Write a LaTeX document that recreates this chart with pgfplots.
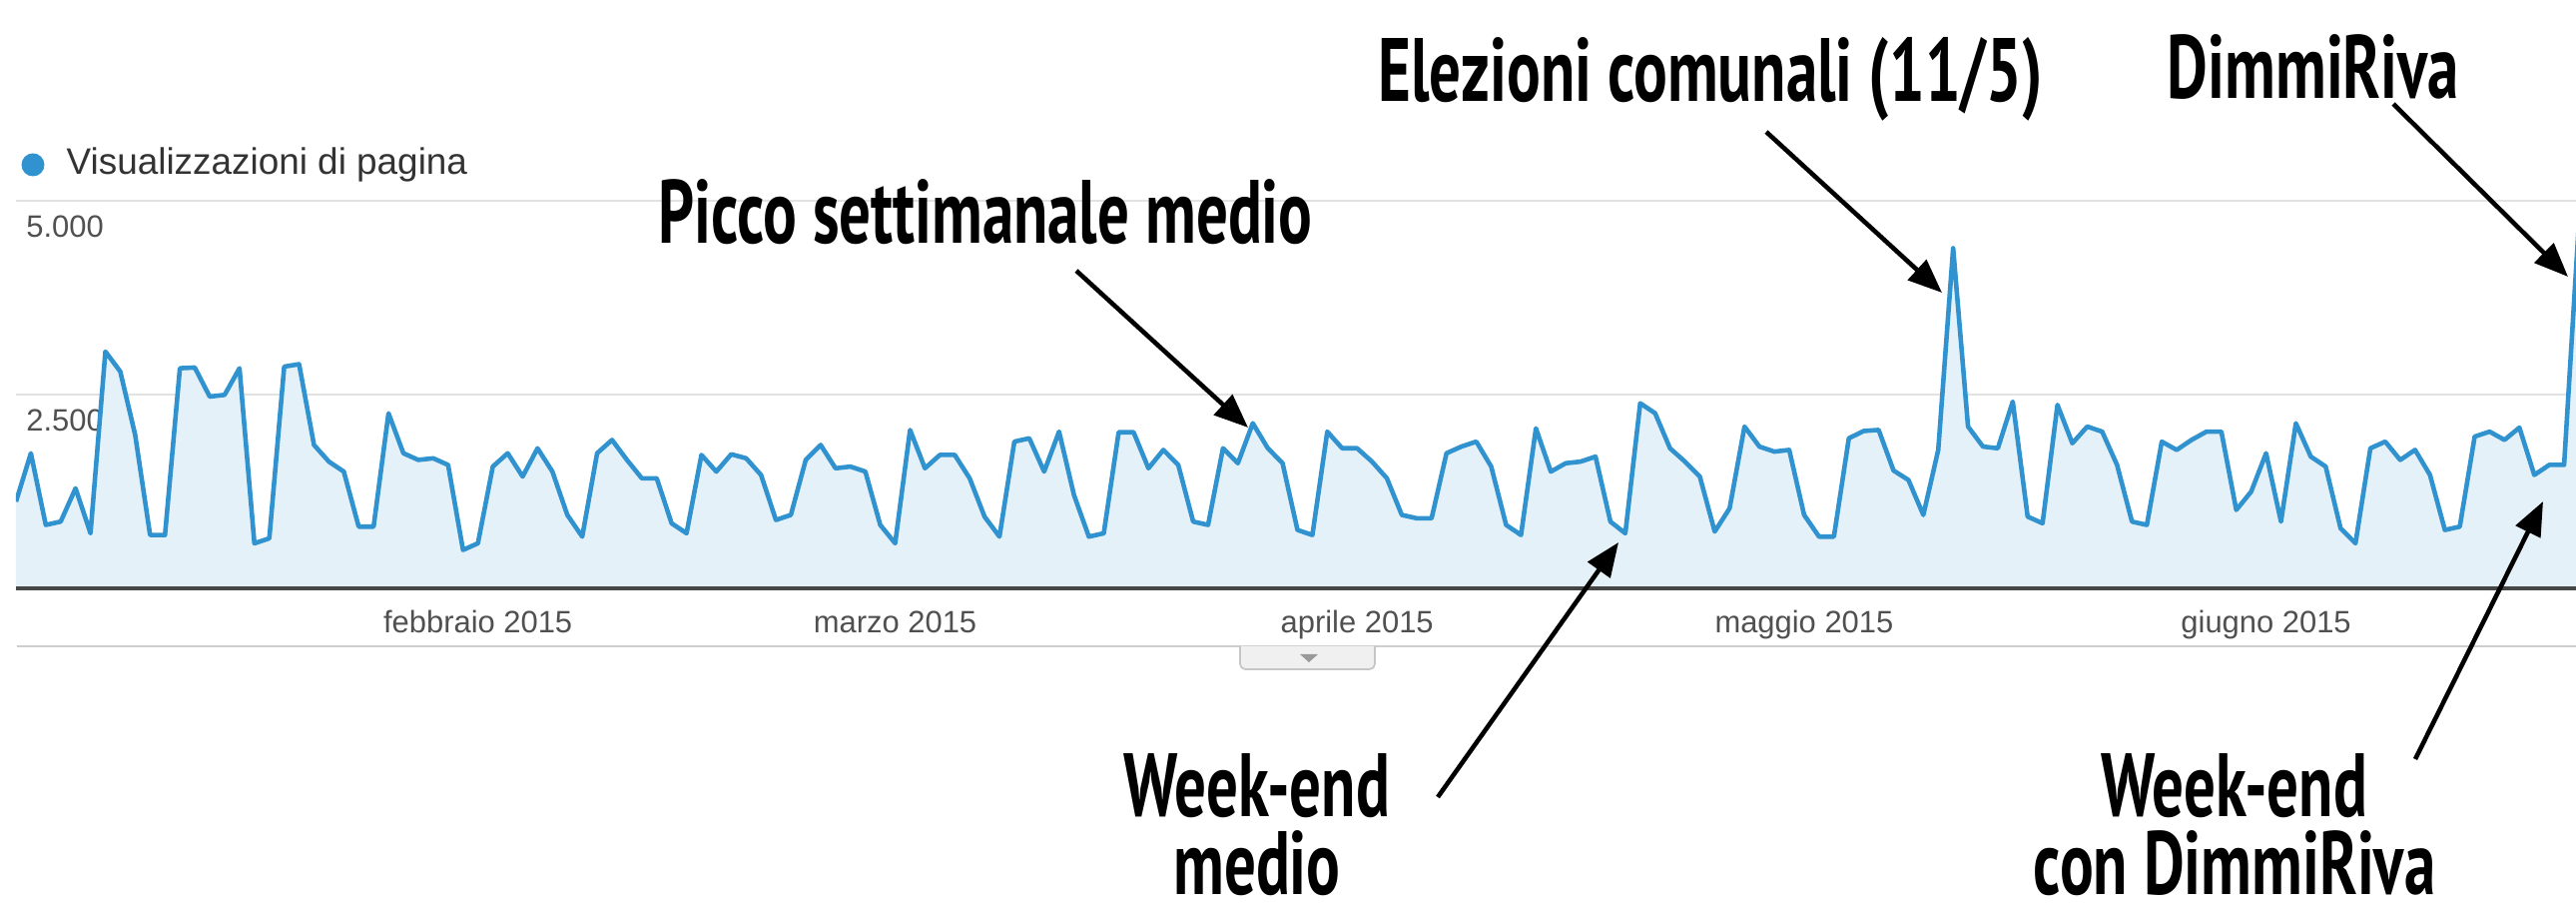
\documentclass[border=0pt]{standalone}
\usepackage{pgfplots}
\pgfplotsset{compat=1.18}
\usepackage{pgfplotstable}
\usepackage{fontspec}
\setmainfont{Liberation Sans}
\newfontfamily\annot[FakeStretch=0.70]{PT Sans}
\usetikzlibrary{arrows.meta}
\definecolor{gablue}{RGB}{48,146,206}
\definecolor{gafill}{RGB}{229,241,248}
\definecolor{gridgray}{RGB}{226,226,226}
\definecolor{basegray}{RGB}{70,70,70}
\definecolor{txtgray}{RGB}{80,80,80}
\pgfplotstableread{
day views
1 1119
2 1743
3 818
4 861
5 1291
6 710
7 3055
8 2797
9 1979
10 688
11 688
12 2840
13 2849
14 2474
15 2496
16 2840
17 581
18 645
19 2861
20 2892
21 1850
22 1635
23 1506
24 796
25 796
26 2259
27 1743
28 1657
29 1678
30 1592
31 495
32 581
33 1571
34 1743
35 1442
36 1807
37 1506
38 947
39 667
40 1743
41 1915
42 1657
43 1420
44 1420
45 839
46 710
47 1721
48 1506
49 1730
50 1678
51 1463
52 882
53 947
54 1657
55 1850
56 1549
57 1571
58 1506
59 818
60 581
61 2044
62 1549
63 1721
64 1721
65 1420
66 925
67 667
68 1893
69 1936
70 1506
71 2022
72 1205
73 667
74 710
75 2014
76 2014
77 1549
78 1786
79 1592
80 861
81 818
82 1807
83 1614
84 2130
85 1810
86 1614
87 753
88 688
89 2022
90 1807
91 1807
92 1635
93 1420
94 947
95 904
96 904
97 1743
98 1829
99 1893
100 1571
101 818
102 688
103 2065
104 1506
105 1614
106 1635
107 1700
108 861
109 710
110 2388
111 2259
112 1807
113 1635
114 1442
115 732
116 1033
117 2087
118 1829
119 1764
120 1786
121 947
122 667
123 667
124 1936
125 2030
126 2044
127 1520
128 1398
129 947
130 1786
131 4389
132 2087
133 1829
134 1807
135 2410
136 925
137 839
138 2367
139 1872
140 2087
141 2022
142 1592
143 861
144 818
145 1893
146 1786
147 1915
148 2022
149 2022
150 1011
151 1248
152 1743
153 861
154 2130
155 1700
156 1571
157 775
158 581
159 1807
160 1893
161 1657
162 1786
163 1463
164 753
165 796
166 1958
167 2022
168 1915
169 2074
170 1463
171 1592
172 1592
173 4740
}\views
\begin{document}
\begin{tikzpicture}
\path[use as bounding box] (0,0) rectangle (25.8,9.12);
\begin{axis}[
  scale only axis, width=25.64cm, height=3.88cm,
  at={(0.16cm,3.23cm)}, anchor=south west,
  xmin=1, xmax=172.8, ymin=0, ymax=5000,
  clip mode=individual,
  axis line style={draw=none},
  major tick length=0pt,
  xtick={32,60,91,121,152},
  xticklabels={febbraio 2015,marzo 2015,aprile 2015,maggio 2015,giugno 2015},
  xticklabel style={font=\fontsize{8.8pt}{10pt}\selectfont, text=txtgray, yshift=-0.1cm},
  ytick={2500,5000},
  yticklabels={2.500,5.000},
  yticklabel style={font=\fontsize{8.8pt}{10pt}\selectfont, text=txtgray, anchor=north west, xshift=-0.02cm, yshift=-0.02cm},
  ymajorgrids, grid style={color=gridgray, line width=0.6pt},
  /pgf/number format/assume math mode=true,
]
\addplot[draw=none, fill=gafill] table[x=day, y=views] {\views} \closedcycle;
\addplot[color=gablue, line width=1.3pt, line join=round, mark=none] table[x=day, y=views] {\views};
\draw[basegray, line width=1pt] (axis cs:1,0) -- (axis cs:172.8,0);
\end{axis}
% legend
\fill[gablue] (0.33,7.47) circle (0.115);
\node[anchor=west, inner sep=0pt, text=black!80, font=\fontsize{10.5pt}{12pt}\selectfont] at (0.66,7.47) {Visualizzazioni di pagina};
% bottom line and tab
\draw[gridgray!80!gray, line width=0.6pt] (0.17,2.65) -- (25.8,2.65);
\draw[fill=gray!12, draw=gray!45, line width=0.5pt, rounded corners=1.5pt] (12.42,2.65) -- (12.42,2.42) -- (13.77,2.42) -- (13.77,2.65);
\fill[gray!80] (13.02,2.57) -- (13.20,2.57) -- (13.11,2.49) -- cycle;
% annotations
\tikzset{ann/.style={font=\annot\bfseries\fontsize{25.6pt}{30pt}\selectfont, inner sep=0pt, anchor=base},
  ann2/.style={font=\annot\bfseries\fontsize{25.6pt}{22pt}\selectfont, inner sep=0pt, anchor=north, align=center},
  arr/.style={line width=1.3pt, -{Triangle[length=0.34cm, width=0.27cm]}}}
\node[ann] at (9.87,6.685) {Picco settimanale medio};
\draw[arr] (10.78,6.41) -- (12.50,4.84);
\node[ann] at (17.13,8.10) {Elezioni comunali (11/5)};
\draw[arr] (17.69,7.80) -- (19.45,6.19);
\node[ann] at (23.17,8.13) {DimmiRiva};
\draw[arr] (23.97,8.08) -- (25.72,6.35);
\node[ann2] at (12.59,1.58) {Week-end\\medio};
\draw[arr] (14.40,1.14) -- (16.21,3.69);
\node[ann2] at (22.38,1.58) {Week-end\\con DimmiRiva};
\draw[arr] (24.19,1.52) -- (25.47,4.10);
\end{tikzpicture}
\end{document}
